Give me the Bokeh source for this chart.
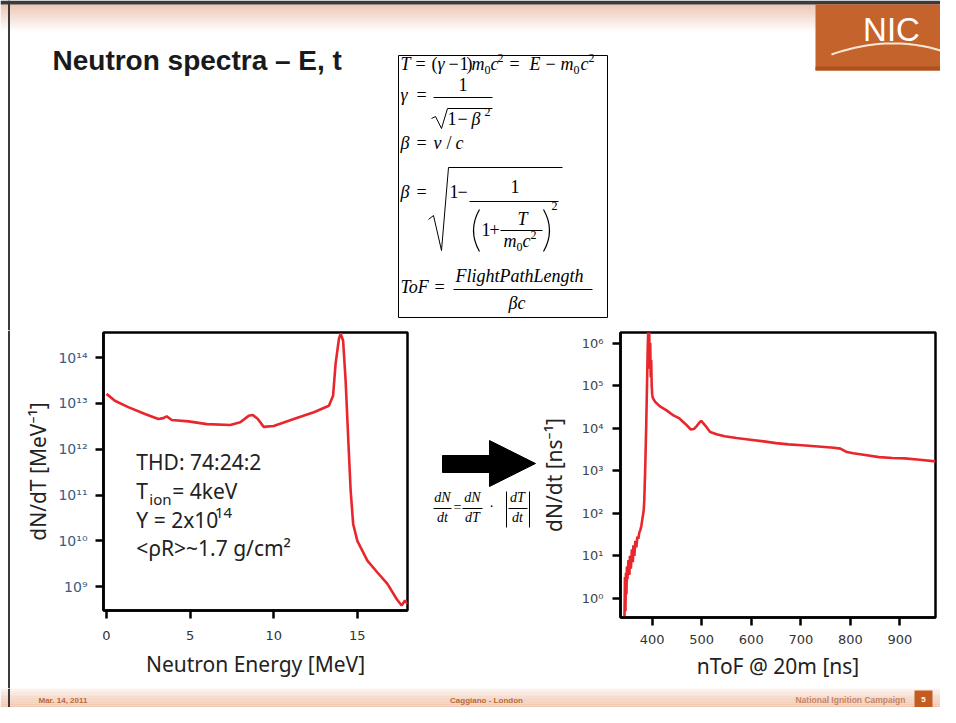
import numpy as np
from bokeh.plotting import figure
from bokeh.layouts import column, row
from bokeh.models import Range1d, FixedTicker, CustomJSTickFormatter
from bokeh.core.properties import value
from bokeh.embed import file_html
from bokeh.resources import INLINE

# ---------------- data ----------------
energy_mev = [0, 0.5, 1.3, 2.3, 3.1, 3.4, 3.6, 3.9, 4.9, 6.0, 7.4, 8.0, 8.5, 8.75,
              9.05, 9.4, 10.0, 11.2, 12.4, 13.3, 13.55, 13.7, 13.9, 14.0, 14.15,
              14.3, 14.48, 14.6, 14.75, 15.0, 15.6, 16.2, 16.8, 17.35, 17.65, 17.85, 18.0]
dndT_log10 = [13.21, 13.06, 12.92, 12.77, 12.66, 12.68, 12.72, 12.64, 12.61, 12.55,
              12.53, 12.59, 12.73, 12.75, 12.66, 12.49, 12.51, 12.66, 12.81, 12.95,
              13.17, 13.87, 14.41, 14.53, 14.37, 13.5, 12.04, 11.1, 10.37, 10.0, 9.57,
              9.31, 9.06, 8.73, 8.59, 8.7, 8.62]

tof_ns = [344, 345, 346, 347, 348, 349, 350, 352, 354, 355, 357, 359, 361, 362, 364,
          366, 368, 370, 372, 374, 376, 378, 380, 382, 383, 384, 385, 386, 387, 388,
          389, 390, 391, 392, 393, 394, 395, 396, 397, 398, 399, 400, 401, 403, 406,
          415, 429, 443, 455, 467, 478, 484, 490, 495, 499, 503, 508, 517, 530, 546,
          570, 598, 625, 650, 675, 702, 735, 767, 780, 793, 806, 830, 858, 885, 910,
          940, 972]
dndt_log10 = [-0.45, 0.5, -0.3, 0.6, 0.1, 0.75, 0.45, 0.9, 0.55, 1.0, 0.7, 1.15, 0.85,
              1.25, 1.0, 1.35, 1.2, 1.45, 1.4, 1.55, 1.6, 1.7, 1.85, 2.0, 2.1, 2.3, 2.7,
              3.1, 3.6, 4.1, 4.7, 5.3, 5.9, 6.3, 5.6, 6.3, 5.4, 6.0, 5.2, 5.6, 5.0, 4.8,
              4.72, 4.68, 4.62, 4.52, 4.42, 4.3, 4.23, 4.1, 3.97, 3.98, 4.05, 4.13, 4.17,
              4.12, 4.05, 3.91, 3.86, 3.81, 3.77, 3.73, 3.69, 3.65, 3.62, 3.6, 3.57,
              3.54, 3.52, 3.44, 3.41, 3.37, 3.32, 3.3, 3.29, 3.26, 3.22]

energy_ticks = [0, 5, 10, 15]
dndT_ticks = [1e9, 1e10, 1e11, 1e12, 1e13, 1e14]
tof_ticks = [400, 500, 600, 700, 800, 900]
dndt_ticks = [1e0, 1e1, 1e2, 1e3, 1e4, 1e5, 1e6]

title_text = "Neutron spectra \u2013 E, t"
footer_left = "Mar. 14, 2011"
footer_mid = "Caggiano - London"
footer_right = "National Ignition Campaign"
page_no = "5"

RED = "#e8262c"
SANS = "Noto Sans"
SERIF = "Liberation Serif"
TICKF = "DejaVu Sans"
BORDER = "#3a3a3a"
BASE_FIX = 0.42  # svg text sits this many font-sizes below the requested baseline


def deco_fig(w, h, x0, x1, y0, y1, **kw):
    p = figure(width=w, height=h, x_range=Range1d(x0, x1), y_range=Range1d(y1, y0),
               output_backend="svg", toolbar_location=None,
               x_axis_location=None, y_axis_location=None,
               outline_line_color=None, background_fill_color="white",
               border_fill_color="white", **kw)
    p.grid.visible = False
    return p


def txt(p, x, y, s, size, font=SANS, style="normal", color="black", align="left",
        baseline="alphabetic", angle=0):
    p.text(x=[x], y=[y - BASE_FIX * size], text=[s], text_font=value(font),
           text_font_size=f"{size}px", text_font_style=style, text_color=color,
           text_align=align, text_baseline=baseline, angle=angle)


def gradient(p, x0, x1, y0, y1, c0, c1, n=24):
    ys = np.linspace(y0, y1, n + 1)
    cols = []
    for i in range(n):
        f = i / (n - 1)
        c = tuple(int(round(c0[k] + (c1[k] - c0[k]) * f)) for k in range(3))
        cols.append("#%02x%02x%02x" % c)
    p.quad(left=[x0] * n, right=[x1] * n, top=list(ys[:-1]), bottom=list(ys[1:]),
           fill_color=cols, line_color=None)


def edge_line(p, y0, y1):
    p.segment(x0=[8.5], y0=[y0], x1=[8.5], y1=[y1], line_color=BORDER, line_width=2)


# ---------------- top band: title, equations, logo ----------------
top = deco_fig(940, 330, 0, 940, 0, 330, min_border=0)
gradient(top, 0, 940, 4, 32, (232, 180, 156), (255, 255, 255), n=28)
top.quad(left=[0], right=[940], top=[0], bottom=[4], fill_color=BORDER, line_color=None)
edge_line(top, 0, 330)
# NIC logo block
top.quad(left=[815], right=[940], top=[4], bottom=[70], fill_color="#c5632d", line_color=None)
top.quad(left=[815], right=[940], top=[66], bottom=[70], fill_color="#ad521f", line_color=None)
txt(top, 891, 43, "NIC", 33, font="Liberation Sans", style="normal", color="white", align="center")
arc_t = np.linspace(0, 1, 30)
arc_x = (1 - arc_t) ** 2 * 831 + 2 * (1 - arc_t) * arc_t * 888 + arc_t ** 2 * 940
arc_y = (1 - arc_t) ** 2 * 54 + 2 * (1 - arc_t) * arc_t * 34 + arc_t ** 2 * 50
top.line(x=list(arc_x), y=list(arc_y), line_color="#fbe8d4", line_width=2)

txt(top, 52, 72, title_text, 28, font="Liberation Sans", style="bold", color="#1a1a1a")

# equation box
top.quad(left=[398], right=[607], top=[55], bottom=[317], fill_color="white",
         line_color="black", line_width=1)
M, S = 18, 12
eq = [
    # line 1
    (400, 71, "T", M, "italic"), (415, 71, "=", M, "normal"), (431, 71, "(", M, "normal"),
    (437, 71, "\u03b3", M, "italic"), (448, 71, "\u2212", M, "normal"), (459, 71, "1", M, "normal"),
    (466, 71, ")", M, "normal"), (471, 71, "m", M, "italic"), (484, 75, "0", S, "normal"),
    (490, 71, "c", M, "italic"), (497, 63, "2", S, "normal"), (509, 71, "=", M, "normal"),
    (529, 71, "E", M, "italic"), (545, 71, "\u2212", M, "normal"), (560, 71, "m", M, "italic"),
    (573, 75, "0", S, "normal"), (580, 71, "c", M, "italic"), (588, 63, "2", S, "normal"),
    # line 2
    (400, 102, "\u03b3", M, "italic"), (416, 102, "=", M, "normal"),
    (458, 92, "1", M, "normal"),
    (447, 126, "1", M, "normal"), (457, 126, "\u2212", M, "normal"),
    (471, 126, "\u03b2", M, "italic"), (484, 117, "2", S, "normal"),
    # line 3
    (400, 150, "\u03b2", M, "italic"), (416, 150, "=", M, "normal"),
    (433, 150, "v", M, "italic"), (446, 150, "/", M, "normal"), (455, 150, "c", M, "italic"),
    # line 4
    (400, 199, "\u03b2", M, "italic"), (416, 199, "=", M, "normal"),
    (449, 199, "1", M, "normal"), (457, 199, "\u2212", M, "normal"),
    (510, 194, "1", M, "normal"),
    (481, 237, "1", M, "normal"), (489, 237, "+", M, "normal"),
    (517, 226, "T", M, "italic"),
    (503, 248, "m", M, "italic"), (516, 252, "0", S, "normal"), (522, 248, "c", M, "italic"),
    (530, 240, "2", S, "normal"),
    (551, 211, "2", S, "normal"),
    # line 5
    (400, 294, "ToF", M, "italic"), (434, 294, "=", M, "normal"),
    (455, 283, "FlightPathLength", M, "italic"),
    (508, 310, "\u03b2c", M, "italic"),
]
for (x, y, s, sz, st) in eq:
    txt(top, x, y, s, sz, font=SERIF, style=st)
bars = [(433, 492, 97), (469, 558, 201), (500, 542, 230), (453, 592, 289)]
for (a, b, y) in bars:
    top.line(x=[a, b], y=[y, y], line_color="black", line_width=1)
top.line(x=[431, 435, 441, 447, 492], y=[118, 116, 128, 108, 108], line_color="black", line_width=1)
top.line(x=[428, 433, 441, 448, 562], y=[219, 215, 250, 167, 167], line_color="black", line_width=1)
top.quadratic(x0=[479], y0=[209], x1=[479], y1=[251], cx=[467], cy=[230], line_color="black", line_width=1.2)
top.quadratic(x0=[543], y0=[209], x1=[543], y1=[251], cx=[555], cy=[230], line_color="black", line_width=1.2)

# ---------------- chart styling helper ----------------
SUP_JS = """
const sup = {"0":"\u2070","1":"\u00b9","2":"\u00b2","3":"\u00b3","4":"\u2074","5":"\u2075",
             "6":"\u2076","7":"\u2077","8":"\u2078","9":"\u2079","-":"\u207b"};
const e = Math.round(Math.log10(tick));
return "10" + String(e).split("").map(c => sup[c]).join("");
"""


def style_chart(p, ylab_color):
    p.grid.visible = False
    p.outline_line_color = "black"
    p.outline_line_width = 2.5
    p.outline_line_alpha = 1.0
    for ax in (p.xaxis[0], p.yaxis[0]):
        ax.axis_line_width = 2.5
        ax.axis_line_color = "black"
        ax.major_tick_line_width = 2.5
        ax.major_tick_line_color = "black"
        ax.major_tick_out = 8
        ax.major_tick_in = 0
        ax.minor_tick_out = 0
        ax.minor_tick_in = 0
        ax.major_label_text_font = TICKF
        ax.axis_label_text_font = SANS
        ax.axis_label_text_font_size = "21px"
        ax.axis_label_text_font_style = "normal"
        ax.axis_label_text_color = "#222222"
    p.xaxis.major_label_text_color = "#333333"
    p.yaxis.major_label_text_color = ylab_color


ROW_H = 358  # ref y 330..688

# left slide edge strip
edge = deco_fig(12, ROW_H, 0, 12, 330, 330 + ROW_H, min_border=0)
edge_line(edge, 330, 330 + ROW_H)

# ---------------- left chart: dN/dT vs energy ----------------
pl = figure(width=400, height=ROW_H, x_range=Range1d(-0.18, 18.0),
            y_range=Range1d(10 ** 8.48, 10 ** 14.55), y_axis_type="log",
            output_backend="svg", toolbar_location=None,
            min_border_left=91, min_border_right=5, min_border_top=2,
            min_border_bottom=ROW_H - 280,
            background_fill_color="white", border_fill_color="white")
style_chart(pl, "#3a5a86")
pl.xaxis.ticker = FixedTicker(ticks=energy_ticks)
pl.yaxis.ticker = FixedTicker(ticks=dndT_ticks)
pl.yaxis.formatter = CustomJSTickFormatter(code=SUP_JS)
pl.xaxis.major_label_text_font_size = "13px"
pl.yaxis.major_label_text_font_size = "14px"
pl.xaxis.major_label_standoff = 12
pl.yaxis.major_label_standoff = 8
pl.xaxis.axis_label = "Neutron Energy [MeV]"
pl.yaxis.axis_label = "dN/dT [MeV\u207b\u00b9]"
pl.xaxis.axis_label_standoff = 7
pl.yaxis.axis_label_standoff = 3
pl.line(x=energy_mev, y=[10 ** v for v in dndT_log10], line_color=RED, line_width=2.6)


def ltxt(px, py, s, size):
    py = py - BASE_FIX * size
    x, y = (px - 105) / 16.8, 10 ** (14 - (py - 357) / 45.8)
    pl.text(x=[x], y=[y], text=[s], text_font=value(SANS), text_font_size=f"{size}px",
            text_color="#222222", text_align="left", text_baseline="alphabetic")


ltxt(135, 470, "THD: 74:24:2", 21)
ltxt(135, 499, "T", 21)
ltxt(148, 505, "ion", 15)
ltxt(171, 499, "= 4keV", 21)
ltxt(135, 528, "Y = 2x10", 21)
ltxt(214, 519, "14", 15)
ltxt(135, 556, "<\u03c1R>~1.7 g/cm\u00b2", 21)

# ---------------- middle: arrow + relation (frame = ref y 332..610) ----------------
mid = deco_fig(124, ROW_H, 412, 536, 332, 610, min_border_left=0, min_border_right=0,
               min_border_top=2, min_border_bottom=ROW_H - 280)
mid.patch(x=[442, 489, 489, 535, 489, 489, 442], y=[455, 455, 440, 463, 486, 472, 472],
          fill_color="black", line_color="black")
F = 14
rel = [(442, 503, "dN"), (442, 523, "dt"), (472, 503, "dN"), (472, 523, "dT"),
       (517, 503, "dT"), (517, 523, "dt")]
for (x, y, s) in rel:
    txt(mid, x, y, s, F, font=SERIF, style="italic", align="center")
txt(mid, 457, 513, "=", F, font=SERIF, align="center")
txt(mid, 491, 512, "\u00b7", F, font=SERIF, align="center")
for (a, b) in [(433, 451), (462, 482), (508, 527)]:
    mid.line(x=[a, b], y=[508, 508], line_color="black", line_width=1)
for xb in (506, 529):
    mid.line(x=[xb, xb], y=[491, 527], line_color="black", line_width=1)

# ---------------- right chart: dN/dt vs time of flight ----------------
pr = figure(width=404, height=ROW_H, x_range=Range1d(336, 972),
            y_range=Range1d(10 ** -0.45, 10 ** 6.25), y_axis_type="log",
            output_backend="svg", toolbar_location=None,
            min_border_left=73, min_border_right=5, min_border_top=2,
            min_border_bottom=ROW_H - 287,
            background_fill_color="white", border_fill_color="white")
style_chart(pr, "#444444")
pr.xaxis.ticker = FixedTicker(ticks=tof_ticks)
pr.yaxis.ticker = FixedTicker(ticks=dndt_ticks)
pr.yaxis.formatter = CustomJSTickFormatter(code=SUP_JS)
pr.xaxis.major_label_text_font_size = "13px"
pr.yaxis.major_label_text_font_size = "13px"
pr.xaxis.major_label_standoff = 9
pr.yaxis.major_label_standoff = 9
pr.xaxis.axis_label = "nToF @ 20m [ns]"
pr.yaxis.axis_label = "dN/dt [ns\u207b\u00b9]"
pr.xaxis.axis_label_standoff = 5
pr.yaxis.axis_label_standoff = 11
pr.line(x=tof_ns, y=[10 ** v for v in dndt_log10], line_color=RED, line_width=2.6)

# ---------------- footer (ref y 695..714 drawn in the last 19 px) ----------------
FH = 707 - (330 + ROW_H)
foot = deco_fig(940, FH, 0, 940, 695, 695 + FH, min_border=0)
gradient(foot, 0, 940, 695, 695 + FH, (252, 240, 233), (240, 198, 177), n=10)
edge_line(foot, 695, 695 + FH)
txt(foot, 38, 710, footer_left, 8, font="Liberation Sans", style="bold", color="#b86a38")
txt(foot, 486, 710, footer_mid, 8, font="Liberation Sans", style="bold", color="#b86a38", align="center")
txt(foot, 905, 710, footer_right, 8.5, font="Liberation Sans", style="bold", color="#c58463", align="right")
foot.quad(left=[914], right=[932], top=[697], bottom=[714], fill_color="#c45c22", line_color=None)
txt(foot, 923, 709.5, page_no, 8, font="Liberation Sans", style="bold", color="white", align="center")

mid_row = row(column(edge), column(pl), column(mid), column(pr))
layout = column(top, mid_row, foot)
open("out.html", "w", encoding="utf-8").write(file_html(layout, INLINE))
